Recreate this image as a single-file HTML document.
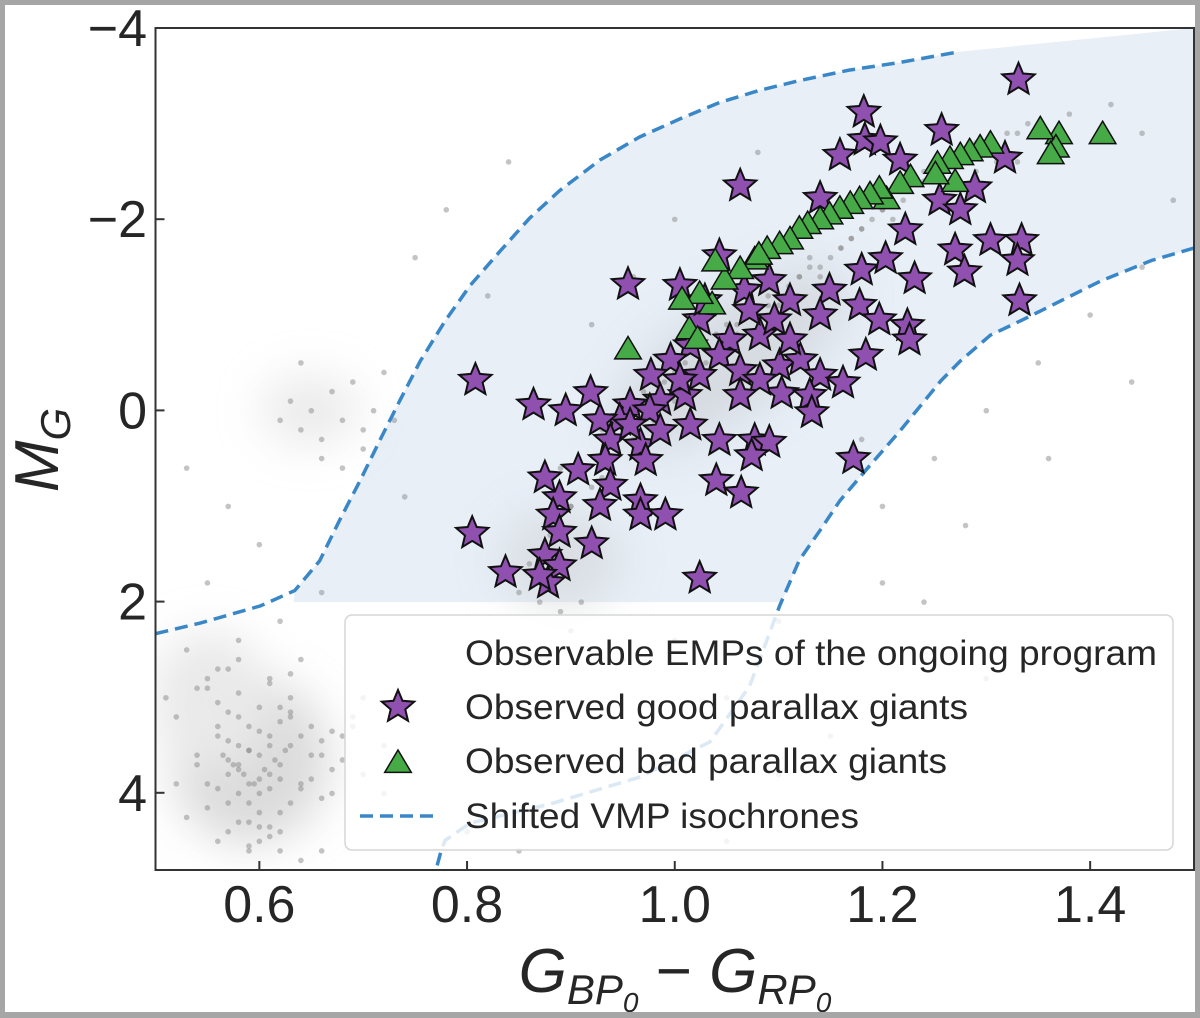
<!DOCTYPE html>
<html><head><meta charset="utf-8">
<style>
html,body{margin:0;padding:0;background:#fff;}
#wrap{position:relative;width:1200px;height:1018px;box-sizing:border-box;border:5px solid #a6a6a6;border-bottom-width:6px;background:#fff;overflow:hidden;}
svg{position:absolute;left:-5px;top:-5px;}
text{font-family:"Liberation Sans",sans-serif;fill:#262626;}
</style></head><body>
<div id="wrap">
<svg id="chart" width="1200" height="1018"></svg>
</div>
<script>
// ---- data ----
const xTicks=[0.6,0.8,1.0,1.2,1.4];
const xTickLabels=["0.6","0.8","1.0","1.2","1.4"];
const yTicks=[-4,-2,0,2,4];
const yTickLabels=["\u22124","\u22122","0","2","4"];
const starX=[1.331,1.182,1.183,1.198,1.257,1.159,1.217,1.318,1.063,1.140,1.289,1.255,1.275,1.222,1.304,1.334,1.330,1.270,1.279,1.231,1.180,1.203,1.332,0.955,1.005,1.043,1.067,1.091,1.111,1.149,1.140,1.178,1.197,1.224,1.226,1.184,1.024,1.053,1.082,1.043,1.015,0.996,0.977,1.024,1.063,1.101,1.121,1.140,1.162,1.103,1.130,1.132,0.986,1.010,0.957,0.947,0.976,0.928,0.919,0.895,0.864,0.808,0.938,0.967,0.933,0.972,1.015,1.043,1.077,1.091,1.074,1.172,0.907,0.938,0.875,0.889,1.040,1.064,0.928,0.967,0.967,0.991,0.883,0.889,0.805,0.920,0.875,0.889,0.837,0.878,1.024,0.870,1.072,1.096,1.111,1.082,1.029,1.063,1.005,0.957,0.986];
const starY=[-3.46,-3.12,-2.83,-2.81,-2.93,-2.67,-2.62,-2.64,-2.35,-2.22,-2.33,-2.20,-2.10,-1.89,-1.78,-1.78,-1.57,-1.68,-1.45,-1.38,-1.47,-1.59,-1.15,-1.32,-1.31,-1.62,-1.26,-1.36,-1.15,-1.26,-1.00,-1.10,-0.95,-0.89,-0.74,-0.58,-0.95,-0.74,-0.79,-0.58,-0.68,-0.53,-0.37,-0.37,-0.42,-0.47,-0.53,-0.37,-0.29,-0.18,-0.16,0.02,-0.11,-0.16,-0.06,0.10,0.00,0.10,-0.19,0.00,-0.06,-0.32,0.31,0.36,0.52,0.52,0.15,0.31,0.31,0.33,0.47,0.50,0.62,0.78,0.70,0.91,0.73,0.86,0.99,0.94,1.09,1.09,1.09,1.27,1.28,1.39,1.51,1.62,1.69,1.80,1.75,1.72,-1.05,-0.95,-0.74,-0.32,-1.15,-0.16,-0.32,0.15,0.21];
const triX=[1.412,1.370,1.367,1.362,1.352,1.304,1.294,1.284,1.275,1.265,1.253,1.270,1.251,1.227,1.217,1.204,1.197,1.188,1.178,1.169,1.159,1.149,1.140,1.128,1.120,1.111,1.101,1.089,1.077,1.063,1.048,1.036,1.024,1.007,1.014,1.022,0.955,1.039,1.081];
const triY=[-2.88,-2.88,-2.74,-2.67,-2.93,-2.78,-2.74,-2.70,-2.66,-2.62,-2.57,-2.38,-2.46,-2.43,-2.36,-2.20,-2.31,-2.25,-2.20,-2.15,-2.10,-2.04,-1.99,-1.94,-1.89,-1.78,-1.73,-1.68,-1.57,-1.47,-1.36,-1.10,-1.21,-1.15,-0.84,-0.74,-0.63,-1.55,-1.62];
const bgX=[0.52,0.54,0.55,0.56,0.57,0.57,0.58,0.58,0.58,0.59,0.59,0.60,0.60,0.60,0.61,0.61,0.62,0.62,0.63,0.63,0.64,0.65,0.66,0.67,0.68,0.55,0.56,0.57,0.59,0.61,0.62,0.64,0.53,0.51,0.66,0.69,0.70,0.72,0.58,0.60,0.57,0.59,0.56,0.61,0.63,
0.62,0.63,0.64,0.65,0.66,0.67,0.68,0.69,0.70,0.71,0.72,0.73,0.66,0.68,0.70,0.64,0.74,0.60,0.57,0.53,0.55,0.58,0.62,0.66,
0.85,0.87,0.88,0.90,0.91,0.93,0.94,0.95,0.96,0.97,0.98,0.99,1.00,1.01,1.02,1.03,1.04,1.05,1.06,1.07,1.08,1.09,1.10,1.11,1.12,1.13,1.14,1.15,1.16,1.17,1.18,1.19,1.20,1.21,1.22,1.23,1.24,1.25,1.27,1.29,1.31,1.33,1.35,1.38,1.42,1.45,
0.90,0.95,1.00,1.05,1.10,1.15,1.20,1.25,1.30,1.35,1.40,1.45,0.80,0.85,1.05,1.10,1.15,1.20,1.30,1.40,0.75,0.78,0.82,0.84,0.92,0.96,1.00,1.08,1.12,1.18,1.24,1.28,1.36,1.44,1.48,
0.565,0.575,0.585,0.595,0.605,0.615,0.625,0.57,0.58,0.59,0.60,0.61,0.62,0.56,0.58,0.60,0.62,0.64,0.54,0.56,0.58,0.60,0.62,0.64,0.66,0.55,0.57,0.59,0.61,0.63,0.65,0.67,0.69,0.52,0.54,0.56,0.58,0.60,0.62,0.64,0.66,0.68,0.70,0.72,0.53,0.55,0.57,0.59,0.61,0.63,0.65,0.67,0.59,0.61,0.63,
0.88,0.90,0.92,0.94,0.96,0.98,1.00,1.02,1.04,1.06,1.08,1.10,1.12,1.14,1.16,1.18,1.20,1.22,1.24,1.26,1.28,1.30,1.32,1.34,0.89,0.93,0.97,1.01,1.05,1.09,1.13,1.17,1.21,1.25,1.29,1.33,0.86,0.87,0.89,0.91];
const bgY=[3.2,3.6,3.9,3.4,3.8,4.1,3.5,3.7,4.3,3.9,3.3,3.6,4.0,3.1,3.8,3.4,3.7,4.2,3.5,3.0,3.9,3.3,3.6,4.0,3.4,2.9,4.5,2.7,4.6,2.8,4.4,2.6,2.5,3.0,4.6,3.2,3.8,3.5,3.75,3.85,3.65,3.55,3.95,3.95,3.15,
0.1,-0.1,0.2,0.0,0.3,-0.2,0.1,-0.3,0.2,0.0,-0.4,0.1,0.5,0.6,0.4,-0.5,0.9,1.4,1.0,0.6,1.8,2.4,2.2,1.9,
1.9,1.6,1.2,1.0,0.6,0.7,0.3,0.2,0.0,-0.1,0.1,-0.3,-0.4,-0.2,-0.6,-0.5,-0.8,-0.7,-0.9,-1.0,-0.8,-1.2,-1.1,-1.3,-1.4,-1.5,-1.4,-1.6,-1.7,-1.8,-1.9,-2.0,-2.1,-2.2,-2.3,-2.4,-2.5,-2.6,-2.7,-2.8,-2.6,-2.9,-3.0,-3.1,-3.2,-2.9,
2.3,2.6,2.4,3.0,2.2,3.4,1.0,0.5,0.0,-0.5,-1.0,-1.5,4.4,4.6,4.5,3.8,4.2,1.8,2.8,2.5,-1.6,-2.1,-1.2,-2.6,-0.9,-1.4,-2.0,-2.7,-0.2,0.3,2.0,1.2,0.5,-0.3,-2.2,
3.6,3.7,3.8,3.9,3.75,3.65,3.55,3.45,4.0,4.1,3.35,3.5,3.85,3.3,3.2,4.2,3.25,3.4,3.7,3.05,2.95,4.35,3.1,3.95,4.05,4.15,4.4,4.3,2.85,2.75,3.6,3.75,3.3,3.9,2.9,2.7,2.6,4.5,4.6,4.7,3.45,3.65,3.0,4.0,4.25,2.8,3.15,3.55,4.45,4.1,3.85,3.35,4.55,4.35,3.2,
1.3,1.0,0.8,0.5,0.3,0.1,-0.1,-0.3,-0.6,-0.8,-1.0,-1.2,-1.4,-1.5,-1.7,-1.9,-2.1,-2.2,-2.4,-2.5,-2.6,-2.7,-2.9,-3.0,0.6,0.2,-0.2,-0.5,-0.9,-1.1,-1.6,-1.8,-2.0,-2.2,-2.5,-2.6,1.6,2.0,2.1,2.0];
const upperCurveX=[0.50,0.543,0.601,0.634,0.658,0.677,0.697,0.716,0.735,0.755,0.779,0.803,0.832,0.860,0.889,0.928,0.966,1.005,1.043,1.082,1.120,1.168,1.217,1.273];
const upperCurveY=[2.33,2.22,2.04,1.88,1.57,1.15,0.73,0.31,-0.10,-0.52,-0.94,-1.31,-1.67,-2.01,-2.30,-2.62,-2.86,-3.05,-3.22,-3.35,-3.45,-3.56,-3.64,-3.75];
const lowerCurveX=[1.50,1.459,1.411,1.372,1.333,1.304,1.275,1.256,1.217,1.188,1.159,1.140,1.120,1.101,1.087,1.072,1.034,0.966,0.880,0.803,0.779,0.775,0.770];
const lowerCurveY=[-1.70,-1.57,-1.36,-1.15,-0.94,-0.79,-0.52,-0.31,0.21,0.57,0.94,1.25,1.56,2.04,2.45,2.88,3.46,3.83,4.11,4.31,4.49,4.6,4.8];

// ---- axes ----
const L=155.5,R=1194,T=28,B=870;
const X0=0.5,X1=1.5,Y0=-4,Y1=4.8;
const sx=v=>L+(v-X0)/(X1-X0)*(R-L);
const sy=v=>T+(v-Y0)/(Y1-Y0)*(B-T);
const NS='http://www.w3.org/2000/svg';
const svg=document.getElementById('chart');
function mk(tag,attrs,parent){const e=document.createElementNS(NS,tag);for(const k in attrs)e.setAttribute(k,attrs[k]);(parent||svg).appendChild(e);return e;}
mk('defs',{}).innerHTML='<clipPath id="clip"><rect x="155.5" y="28" width="1038.5" height="842"/></clipPath><filter id="blur" x="-50%" y="-50%" width="200%" height="200%"><feGaussianBlur stdDeviation="22"/></filter>';
const g=mk('g',{'clip-path':'url(#clip)'});



// shaded region
let poly=[[sx(0.633),sy(2)]];
for(let i=0;i<upperCurveX.length;i++){if(upperCurveY[i]<2)poly.push([sx(upperCurveX[i]),sy(upperCurveY[i])]);}
poly.push([R,sy(-4)]);
for(let i=0;i<lowerCurveX.length;i++){if(lowerCurveY[i]<2)poly.push([sx(lowerCurveX[i]),sy(lowerCurveY[i])]);}
poly.push([sx(1.103),sy(2)]);
const region=mk('polygon',{points:poly.map(p=>p.join(',')).join(' '),fill:'#e8eff7'},g);



// density haze (decorative)
const haze=mk('g',{filter:'url(#blur)',opacity:0.55},g);


mk('ellipse',{cx:250,cy:760,rx:80,ry:85,fill:'#bdbdbd'},haze);
mk('ellipse',{cx:210,cy:700,rx:60,ry:70,fill:'#d8d8d8'},haze);
mk('ellipse',{cx:310,cy:410,rx:50,ry:35,fill:'#dadada'},haze);
mk('ellipse',{cx:730,cy:360,rx:140,ry:55,fill:'#c8cbd0',transform:'rotate(-35 730 360)'},haze);
mk('ellipse',{cx:560,cy:560,rx:60,ry:50,fill:'#cfd1d4'},haze);

// background dots
for(let i=0;i<bgX.length;i++){
  const c=mk('circle',{cx:sx(bgX[i]),cy:sy(bgY[i]),r:2.8,fill:'#8a8a8a','fill-opacity':0.5},g);
  
  
}
// isochrones
function path(xs,ys){return xs.map((x,i)=>(i?'L':'M')+sx(x).toFixed(1)+','+sy(ys[i]).toFixed(1)).join(' ');}
const up=mk('path',{d:path(upperCurveX,upperCurveY),fill:'none',stroke:'#3a87c8','stroke-width':3.5,'stroke-dasharray':'13,7'},g);


const lo=mk('path',{d:path(lowerCurveX,lowerCurveY),fill:'none',stroke:'#3a87c8','stroke-width':3.5,'stroke-dasharray':'13,7'},g);



function starPts(cx,cy,r){let s=[];for(let k=0;k<10;k++){const a=-Math.PI/2+k*Math.PI/5;const rr=k%2?r*0.45:r;s.push((cx+rr*Math.cos(a)).toFixed(1)+','+(cy+rr*Math.sin(a)).toFixed(1));}return s.join(' ');}
function triPts(cx,cy,r){return [[cx,cy-r],[cx+r*0.95,cy+r*0.6],[cx-r*0.95,cy+r*0.6]].map(p=>p.join(',')).join(' ');}
for(let i=0;i<starX.length;i++){
  const s=mk('polygon',{points:starPts(sx(starX[i]),sy(starY[i]),17),fill:'#9050b0',stroke:'#111','stroke-width':2},g);
  
  
}
for(let i=0;i<triX.length;i++){
  const t=mk('polygon',{points:triPts(sx(triX[i]),sy(triY[i]),14),fill:'#46ab46',stroke:'#111','stroke-width':1.5},g);
  
  
}

// legend
const lg=mk('g',{});


mk('rect',{x:345,y:615,width:828,height:235,rx:7,fill:'#fff','fill-opacity':0.82,stroke:'#d6d6d6','stroke-width':1.5},lg);
const entries=["Observable EMPs of the ongoing program","Observed good parallax giants","Observed bad parallax giants","Shifted VMP isochrones"];
const ey=[653,707,761,816];
for(let i=0;i<4;i++){
  const t=mk('text',{x:465,y:ey[i]+12,'font-size':35.5,textLength:[692,503,482,394][i],lengthAdjust:'spacingAndGlyphs'},lg);t.textContent=entries[i];
  
  
}
mk('polygon',{points:starPts(398,707,17),fill:'#9050b0',stroke:'#111','stroke-width':2},lg);
mk('polygon',{points:triPts(398,764,14),fill:'#46ab46',stroke:'#111','stroke-width':1.5},lg);
mk('line',{x1:360,y1:816,x2:436,y2:816,stroke:'#3a87c8','stroke-width':3.5,'stroke-dasharray':'13,7'},lg);

// spines & ticks
const ax=mk('g',{});


mk('rect',{x:L,y:T,width:R-L,height:B-T,fill:'none',stroke:'#333','stroke-width':2},ax);
xTicks.forEach((v,i)=>{
  mk('line',{x1:sx(v),y1:B,x2:sx(v),y2:B-9,stroke:'#333','stroke-width':2},ax);
  const t=mk('text',{x:sx(v),y:B+52,'font-size':52,'text-anchor':'middle'},ax);t.textContent=xTickLabels[i];
  
  
});
yTicks.forEach((v,i)=>{
  const yy=T+(v-Y0)*95.6;
  mk('line',{x1:L,y1:yy,x2:L+9,y2:yy,stroke:'#333','stroke-width':2},ax);
  const t=mk('text',{x:147,y:yy+18,'font-size':52,'text-anchor':'end'},ax);t.textContent=yTickLabels[i];
  
  
});
const yl=mk('text',{x:0,y:0,'font-size':62,'font-style':'italic',transform:'translate(58,450) rotate(-90)','text-anchor':'middle'});
yl.innerHTML='M<tspan font-size="42" dy="12">G</tspan>';


const xl=mk('text',{x:675,y:992,'font-size':62,'font-style':'italic','text-anchor':'middle'});
xl.innerHTML='G<tspan font-size="42" dy="12">BP</tspan><tspan font-size="28" dy="8">0</tspan><tspan dy="-20" font-style="normal"> \u2212 </tspan>G<tspan font-size="42" dy="12">RP</tspan><tspan font-size="28" dy="8">0</tspan>';


</script>
</body></html>
